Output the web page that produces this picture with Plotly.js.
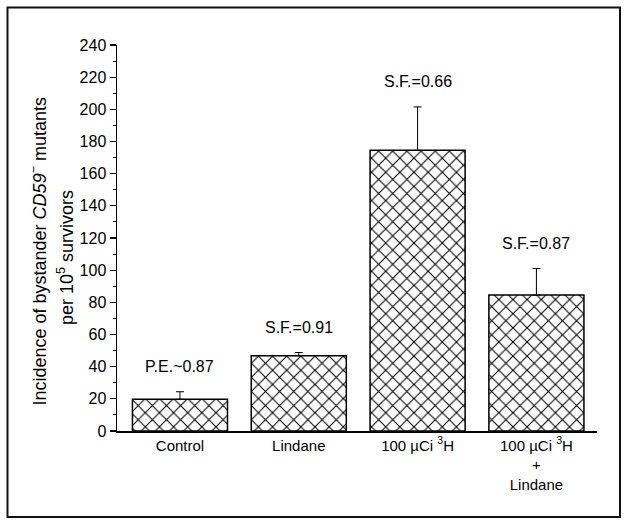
<!DOCTYPE html>
<html>
<head>
<meta charset="utf-8">
<script src="https://cdn.plot.ly/plotly-3.0.1.min.js"></script>
<style>
  html, body { margin: 0; padding: 0; background: #fff; }
  #chart { width: 629px; height: 526px; }
</style>
</head>
<body>
<div id="chart"></div>
<script>
// Data
const categories = ["Control", "Lindane", "100 µCi <sup>3</sup>H", "100 µCi <sup>3</sup>H<br>+<br>Lindane"];
const values = [19.7, 46.8, 174.5, 84.5];
const errors = [4.7, 2.0, 27.0, 16.5];
const barNotes = ["P.E.~0.87", "S.F.=0.91", "S.F.=0.66", "S.F.=0.87"];
const yTickVals = [0, 20, 40, 60, 80, 100, 120, 140, 160, 180, 200, 220, 240];
const yTitleLines = ["Incidence of bystander <i>CD59</i><sup>−</sup> mutants", "per 10<sup>5</sup> survivors"];

const FONT = "Liberation Sans, Arial, Helvetica, sans-serif";
const xIdx = categories.map((_, i) => i);

const trace = {
  type: "bar",
  x: xIdx,
  y: values,
  width: 0.8,
  marker: {
    color: "#ffffff",
    line: { color: "#000000", width: 1.5 },
    pattern: { shape: "x", fgcolor: "#000000", bgcolor: "#ffffff", size: 10, solidity: 0.2 }
  },
  error_y: {
    type: "data",
    symmetric: false,
    array: errors,
    arrayminus: errors.map(() => 0),
    color: "#000000",
    thickness: 1,
    width: 4
  },
  hoverinfo: "skip"
};

const annotations = barNotes.map((t, i) => ({
  x: i,
  y: values[i] + errors[i],
  xref: "x",
  yref: "y",
  text: t,
  showarrow: false,
  yanchor: "middle",
  yshift: 25,
  font: { family: FONT, size: 16, color: "#000" }
}));

// Two-line y-axis title, placed as rotated annotations for exact line spacing
annotations.push({
  xref: "paper", yref: "paper",
  x: (39 - 117) / 480, y: (431 - 251.5) / 386,
  xanchor: "center", yanchor: "middle",
  text: yTitleLines[0], textangle: -90, showarrow: false,
  font: { family: FONT, size: 18, color: "#000" }
});
annotations.push({
  xref: "paper", yref: "paper",
  x: (65 - 117) / 480, y: (431 - 258) / 386,
  xanchor: "center", yanchor: "middle",
  text: yTitleLines[1], textangle: -90, showarrow: false,
  font: { family: FONT, size: 18, color: "#000" }
});

const layout = {
  width: 629,
  height: 526,
  margin: { l: 117, r: 32, t: 45, b: 95 },
  paper_bgcolor: "#ffffff",
  plot_bgcolor: "#ffffff",
  showlegend: false,
  font: { family: FONT, size: 15, color: "#000" },
  xaxis: {
    range: [-0.53, 3.51],
    tickmode: "array",
    tickvals: xIdx,
    ticktext: categories,
    ticks: "",
    showline: true,
    linecolor: "#000",
    linewidth: 1.5,
    showgrid: false,
    zeroline: false,
    tickfont: { size: 15 },
    fixedrange: true
  },
  yaxis: {
    range: [0, 240],
    tickmode: "array",
    tickvals: yTickVals,
    ticks: "outside",
    ticklen: 6,
    tickwidth: 1.2,
    tickcolor: "#000",
    minor: { dtick: 10, ticks: "outside", ticklen: 3, tickwidth: 1, tickcolor: "#000" },
    showline: true,
    linecolor: "#000",
    linewidth: 1.5,
    showgrid: false,
    zeroline: false,
    tickfont: { size: 16 },
    fixedrange: true
  },
  annotations: annotations,
  shapes: [{
    type: "rect",
    xref: "paper", yref: "paper",
    x0: (7.5 - 117) / 480, x1: (620 - 117) / 480,
    y0: (431 - 517) / 386, y1: (431 - 7.5) / 386,
    line: { color: "#111", width: 2 },
    fillcolor: "rgba(0,0,0,0)",
    layer: "below"
  }]
};

Plotly.newPlot("chart", [trace], layout, { displayModeBar: false, staticPlot: true });
</script>
</body>
</html>
